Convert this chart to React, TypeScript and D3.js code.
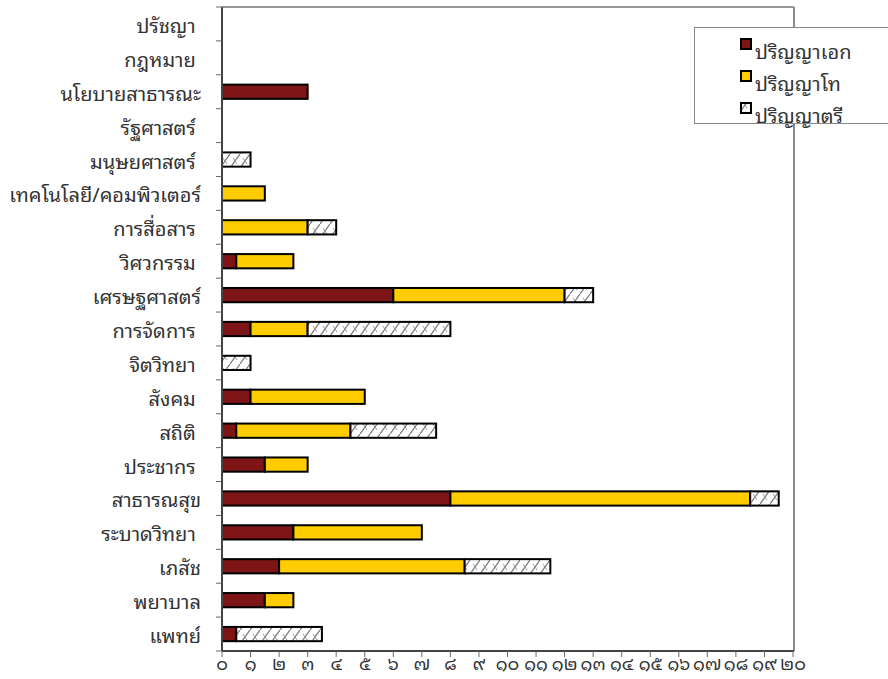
import React from 'react';
import * as d3 from 'd3';

// Fields of study, top to bottom
const categories = [
  'ปรัชญา ',
  'กฎหมาย ',
  'นโยบายสาธารณะ',
  'รัฐศาสตร์ ',
  'มนุษยศาสตร์ ',
  'เทคโนโลยี/คอมพิวเตอร์',
  'การสื่อสาร ',
  'วิศวกรรม ',
  'เศรษฐศาสตร์',
  'การจัดการ ',
  'จิตวิทยา ',
  'สังคม ',
  'สถิติ ',
  'ประชากร ',
  'สาธารณสุข',
  'ระบาดวิทยา ',
  'เภสัช',
  'พยาบาล',
  'แพทย์',
];

const doctorate = [0, 0, 3, 0, 0, 0, 0, 0.5, 6, 1, 0, 1, 0.5, 1.5, 8, 2.5, 2, 1.5, 0.5];
const masters = [0, 0, 0, 0, 0, 1.5, 3, 2, 6, 2, 0, 4, 4, 1.5, 10.5, 4.5, 6.5, 1, 0];
const bachelors = [0, 0, 0, 0, 1, 0, 1, 0, 1, 5, 1, 0, 3, 0, 1, 0, 3, 0, 3];

const seriesNames = ['ปริญญาเอก', 'ปริญญาโท', 'ปริญญาตรี'];
const xTickValues = d3.range(0, 21);
const xTickLabels = ['๐', '๑', '๒', '๓', '๔', '๕', '๖', '๗', '๘', '๙', '๑๐', '๑๑', '๑๒', '๑๓', '๑๔', '๑๕', '๑๖', '๑๗', '๑๘', '๑๙', '๒๐'];

const W = 888;
const H = 679;
const FONT = "'Noto Sans Thai Looped', 'Noto Serif Thai', 'Noto Sans Thai', 'Noto Sans', 'DejaVu Sans', sans-serif";

export default function App() {
  const left = 222;
  const right = 793;
  const top = 7;
  const bottom = 651;

  const x = d3.scaleLinear().domain([0, 20]).range([left, right]);
  const y = d3.scaleBand<string>().domain(categories).range([top, bottom]).padding(0);
  const barH = y.bandwidth() * 0.42;

  const rows = categories.map((c, i) => ({
    cat: c,
    [seriesNames[0]]: doctorate[i],
    [seriesNames[1]]: masters[i],
    [seriesNames[2]]: bachelors[i],
  }));
  const stacked = d3.stack<any>().keys(seriesNames)(rows);

  const fills = ['#7d1416', '#ffcc00', 'url(#hatch)'];

  return (
    <div style={{ position: 'absolute', left: 0, top: 0 }}>
      <svg width={W} height={H} style={{ display: 'block', background: '#fff' }}>
        <defs>
          <pattern id="hatch" patternUnits="userSpaceOnUse" width="10" height="14">
            <rect width="10" height="14" fill="#fff" />
            <path d="M0,14 L10,0" stroke="#777" strokeWidth="1.3" />
            <path d="M3,4 L7,10" stroke="#999" strokeWidth="1" />
          </pattern>
        </defs>

        {/* plot frame: top and right edges */}
        <line x1={left} x2={right + 1} y1={top} y2={top} stroke="#999" strokeWidth={2} />
        <line x1={right + 1} x2={right + 1} y1={top} y2={bottom} stroke="#888" strokeWidth={2} />

        {/* bars */}
        {stacked.map((s, si) =>
          s.map((d, i) => {
            const w = x(d[1]) - x(d[0]);
            if (w <= 0) return null;
            const cy = (y(categories[i]) as number) + y.bandwidth() / 2;
            return (
              <rect
                key={`${si}-${i}`}
                x={x(d[0])}
                y={cy - barH / 2}
                width={w}
                height={barH}
                fill={fills[si]}
                stroke="#000"
                strokeWidth={2}
              />
            );
          })
        )}

        {/* y axis */}
        <line x1={left} x2={left} y1={top} y2={bottom} stroke="#444" strokeWidth={2} />
        {categories.map((c, i) => (
          <line key={`yt${i}`} x1={left - 6} x2={left} y1={y(c)} y2={y(c)} stroke="#666" strokeWidth={1} />
        ))}
        <line x1={left - 6} x2={left} y1={bottom} y2={bottom} stroke="#666" strokeWidth={1} />
        {categories.map((c) => (
          <text
            key={`yl${c}`}
            x={201}
            y={(y(c) as number) + y.bandwidth() / 2}
            textAnchor="end"
            dominantBaseline="central"
            fontFamily={FONT}
            fontSize={20}
            fill="#333"
            style={{ whiteSpace: 'pre' }}
          >
            {c}
          </text>
        ))}

        {/* x axis */}
        <line x1={left} x2={right + 1} y1={bottom} y2={bottom} stroke="#444" strokeWidth={2} />
        {xTickValues.map((v, i) => (
          <g key={`xt${v}`}>
            <line x1={x(v)} x2={x(v)} y1={bottom} y2={bottom + 6} stroke="#666" strokeWidth={1} />
            <text
              x={x(v)}
              y={bottom + 19}
              textAnchor="middle"
              fontFamily={FONT}
              fontSize={18}
              fill="#333"
            >
              {xTickLabels[i]}
            </text>
          </g>
        ))}

        {/* legend */}
        <rect x={694.5} y={27.5} width={200} height={96} fill="#fff" stroke="#888" strokeWidth={1} />
        {seriesNames.map((n, i) => {
          const ly = 44 + i * 32;
          return (
            <g key={`lg${n}`}>
              <rect x={741} y={ly - 5} width={10} height={10} fill={fills[i]} stroke="#000" strokeWidth={2} />
              <text x={755} y={ly + 6} fontFamily={FONT} fontSize={20} fill="#333" dominantBaseline="central">
                {n}
              </text>
            </g>
          );
        })}
      </svg>
    </div>
  );
}
